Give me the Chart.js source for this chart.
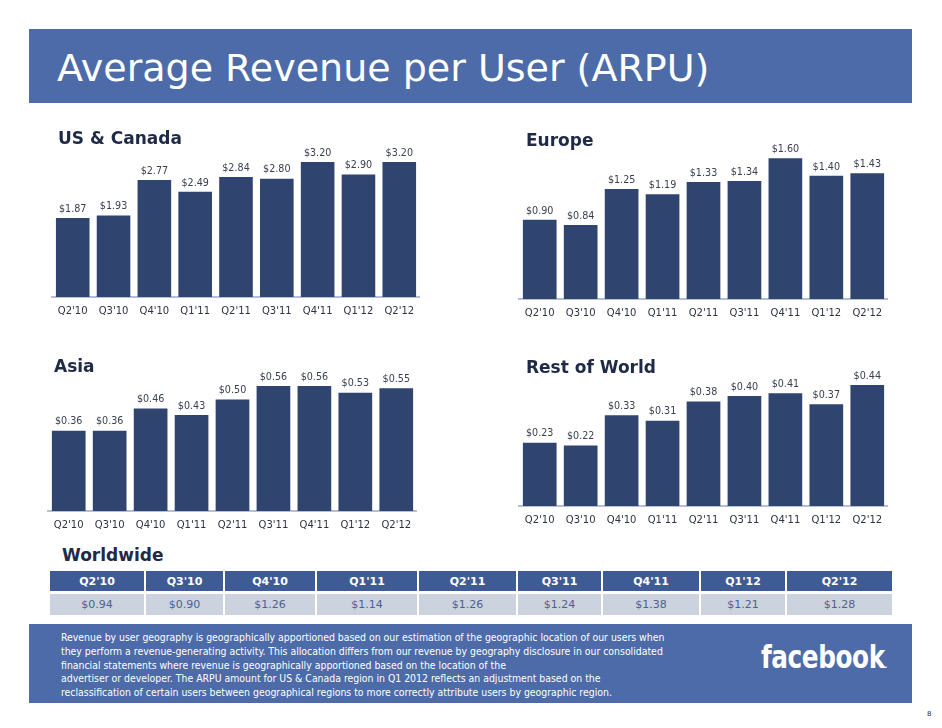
<!DOCTYPE html>
<html>
<head>
<meta charset="utf-8">
<script src="https://cdn.jsdelivr.net/npm/chart.js@4.4.0/dist/chart.umd.min.js"></script>
<style>
  body { margin: 0; background: #fff; font-family: "DejaVu Sans", Verdana, sans-serif; }
  #page { position: relative; width: 942px; height: 728px; overflow: hidden; }
  .band { position: absolute; background: #4c6ba8; }
  #header { left: 29px; top: 29px; width: 883px; height: 74px; }
  #header h1 { margin: 0; position: absolute; left: 28px; top: 17px; color: #fff; font-weight: normal; font-size: 38px; line-height: 44px; white-space: nowrap; }
  .sec { position: absolute; margin: 0; font-size: 17px; font-weight: bold; color: #1e2a46; line-height: 20px; z-index: 2; }
  canvas { position: absolute; }
  #ww { position: absolute; left: 50px; top: 571px; border-collapse: collapse; table-layout: fixed; }
  #ww td { padding: 0; text-align: center; font-size: 11px; border-left: 2px solid #fff; border-right: 0; }
  #ww td:first-child { border-left: 0; }
  #ww tr.h td { background: #3e5b96; color: #fff; font-weight: bold; height: 20px; border-bottom: 3px solid #fff; }
  #ww tr.v td { background: #ccd2de; color: #4d6191; height: 21px; }
  #footer { left: 29px; top: 624px; width: 883px; height: 79px; }
  #note { position: absolute; left: 32px; top: 7px; color: #fff; font-family: "DejaVu Sans Condensed", "DejaVu Sans", sans-serif; font-size: 10.4px; line-height: 13.8px; white-space: pre; }
  #logo { position: absolute; left: 732px; top: 14px; color: #fff; font-family: "Liberation Sans Narrow", "DejaVu Sans Condensed", sans-serif; font-weight: bold; font-size: 32px; letter-spacing: -0.5px; transform: scaleX(0.86); transform-origin: left top; }
  #logo span { font-size: 8px; letter-spacing: 0; }
  #pnum { position: absolute; left: 927px; top: 710px; font-size: 7px; color: #1e2a46; }
</style>
</head>
<body>
<div id="page">
  <div id="header" class="band"><h1>Average Revenue per User (ARPU)</h1></div>

  <div class="sec" style="left:58px; top:128px;">US &amp; Canada</div>
  <div class="sec" style="left:526px; top:130px;">Europe</div>
  <div class="sec" style="left:54px; top:356px;">Asia</div>
  <div class="sec" style="left:526px; top:357px;">Rest of World</div>
  <div class="sec" style="left:62px; top:545px;">Worldwide</div>

  <canvas id="usChart" width="372" height="194" style="left:50px; top:125px;"></canvas>
  <canvas id="euChart" width="373" height="196" style="left:517px; top:125px;"></canvas>
  <canvas id="asiaChart" width="373" height="193" style="left:46px; top:340px;"></canvas>
  <canvas id="rowChart" width="373" height="188" style="left:517px; top:340px;"></canvas>

  <table id="ww"><tr class="h"></tr><tr class="v"></tr></table>

  <div id="footer" class="band">
    <div id="note"></div>
    <div id="logo">facebook<span>.</span></div>
  </div>
  <div id="pnum">8</div>
</div>

<script>
const quarters = ["Q2'10", "Q3'10", "Q4'10", "Q1'11", "Q2'11", "Q3'11", "Q4'11", "Q1'12", "Q2'12"];
const usCanada = [1.87, 1.93, 2.77, 2.49, 2.84, 2.80, 3.20, 2.90, 3.20];
const europe = [0.90, 0.84, 1.25, 1.19, 1.33, 1.34, 1.60, 1.40, 1.43];
const asia = [0.36, 0.36, 0.46, 0.43, 0.50, 0.56, 0.56, 0.53, 0.55];
const restOfWorld = [0.23, 0.22, 0.33, 0.31, 0.38, 0.40, 0.41, 0.37, 0.44];
const worldwide = [0.94, 0.90, 1.26, 1.14, 1.26, 1.24, 1.38, 1.21, 1.28];

const footnote = [
  "Revenue by user geography is geographically apportioned based on our estimation of the geographic location of our users when",
  "they perform a revenue-generating activity. This allocation differs from our revenue by geography disclosure in our consolidated",
  "financial statements where revenue is geographically apportioned based on the location of the",
  "advertiser or developer. The ARPU amount for US & Canada region in Q1 2012 reflects an adjustment based on the",
  "reclassification of certain users between geographical regions to more correctly attribute users by geographic region."
];

const money = v => '$' + v.toFixed(2);

// value labels on top of each bar
const barLabels = {
  id: 'barLabels',
  afterDatasetsDraw(chart) {
    const ctx = chart.ctx;
    ctx.save();
    ctx.font = '9.6px "DejaVu Sans", Verdana, sans-serif';
    ctx.fillStyle = '#3a4050';
    ctx.textAlign = 'center';
    ctx.textBaseline = 'bottom';
    chart.getDatasetMeta(0).data.forEach((bar, i) => {
      ctx.fillText(money(chart.data.datasets[0].data[i]), bar.x, bar.y - 4);
    });
    ctx.restore();
  }
};

function makeChart(id, values, yMax) {
  const ctx = document.getElementById(id).getContext('2d');
  return new Chart(ctx, {
    type: 'bar',
    data: {
      labels: quarters,
      datasets: [{
        data: values,
        backgroundColor: '#2f446f',
        borderWidth: 0,
        barPercentage: 0.823,
        categoryPercentage: 1
      }]
    },
    options: {
      responsive: false,
      animation: false,
      layout: { padding: { top: 20, left: 0, right: 0, bottom: 0 } },
      plugins: { legend: { display: false }, tooltip: { enabled: false } },
      scales: {
        x: {
          grid: { display: false, drawTicks: false },
          border: { display: true, color: '#b3bfdb', width: 2 },
          ticks: { color: '#2e3342', padding: 8, maxRotation: 0, autoSkip: false,
                   font: { family: '"DejaVu Sans", Verdana, sans-serif', size: 10 } },
          afterFit(scale) { scale.height = 22; }
        },
        y: { display: false, min: 0, max: yMax }
      }
    },
    plugins: [barLabels]
  });
}

makeChart('usChart', usCanada, 3.6);
makeChart('euChart', europe, 1.75);
makeChart('asiaChart', asia, 0.677);
makeChart('rowChart', restOfWorld, 0.531);

// worldwide table
const colWidths = [94, 77, 90, 100, 97, 83, 96, 84, 105];
const hRow = document.querySelector('#ww tr.h');
const vRow = document.querySelector('#ww tr.v');
quarters.forEach((q, i) => {
  const h = document.createElement('td');
  h.textContent = q;
  h.style.width = colWidths[i] + 'px';
  hRow.appendChild(h);
  const v = document.createElement('td');
  v.textContent = money(worldwide[i]);
  vRow.appendChild(v);
});

document.getElementById('note').textContent = footnote.join('\n');
</script>
</body>
</html>
